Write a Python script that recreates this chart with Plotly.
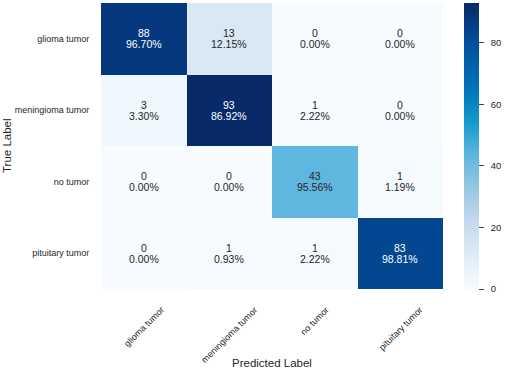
import plotly.graph_objects as go

classes = ["glioma tumor", "meningioma tumor", "no tumor", "pituitary tumor"]
counts = [
    [88, 13, 0, 0],
    [3, 93, 1, 0],
    [0, 0, 43, 1],
    [0, 1, 1, 83],
]
percents = [
    ["96.70%", "12.15%", "0.00%", "0.00%"],
    ["3.30%", "86.92%", "2.22%", "0.00%"],
    ["0.00%", "0.00%", "95.56%", "1.19%"],
    ["0.00%", "0.93%", "2.22%", "98.81%"],
]
cbar_ticks = [0, 20, 40, 60, 80]

colorscale = [
    [0.0, "rgb(247,251,255)"],
    [0.12, "rgb(222,235,247)"],
    [0.25, "rgb(192,215,236)"],
    [0.38, "rgb(140,195,225)"],
    [0.48, "rgb(85,180,222)"],
    [0.58, "rgb(20,155,205)"],
    [0.70, "rgb(0,115,185)"],
    [0.85, "rgb(0,82,160)"],
    [1.0, "rgb(8,42,105)"],
]

FONT = "Liberation Sans, Arial"
TXT = "#262626"
zmax = max(max(r) for r in counts)

fig = go.Figure(go.Heatmap(
    z=counts, x=classes, y=classes,
    colorscale=colorscale, zmin=0, zmax=zmax,
    showscale=True,
    colorbar=dict(
        thickness=15, len=1, lenmode="fraction", y=0.5, yanchor="middle",
        x=1.061, xanchor="left", xpad=0, ypad=0, outlinewidth=0,
        tickvals=cbar_ticks, ticktext=["\u00a0\u00a0" + str(t) for t in cbar_ticks],
        ticks="outside", ticklen=5, tickwidth=1,
        tickcolor="#444", tickfont=dict(family=FONT, size=9.5, color=TXT),
    ),
    hoverinfo="skip",
))

annotations = []
for i, row in enumerate(counts):
    for j, v in enumerate(row):
        col = "white" if v / zmax > 0.6 else TXT
        annotations.append(dict(x=classes[j], y=classes[i], text=str(v), showarrow=False,
                                yshift=5.5, font=dict(family=FONT, size=10.5, color=col)))
        annotations.append(dict(x=classes[j], y=classes[i], text=percents[i][j], showarrow=False,
                                yshift=-5.5, font=dict(family=FONT, size=10.5, color=col)))

for c in classes:
    annotations.append(dict(x=c, y=0, xref="x", yref="paper", yanchor="top", xanchor="center",
                            yshift=-13, text=c, textangle=-45, showarrow=False,
                            font=dict(family=FONT, size=9, color=TXT)))

annotations.append(dict(x=0.5, y=0, xref="paper", yref="paper", yanchor="middle", xanchor="center",
                        yshift=-74, text="Predicted Label", showarrow=False,
                        font=dict(family=FONT, size=11.5, color=TXT)))
annotations.append(dict(x=0, y=0.5, xref="paper", yref="paper", yanchor="middle", xanchor="center",
                        xshift=-94, text="True Label", textangle=-90, showarrow=False,
                        font=dict(family=FONT, size=11.5, color=TXT)))

fig.update_layout(
    width=505, height=373,
    margin=dict(l=101, r=58, t=3, b=84),
    paper_bgcolor="white", plot_bgcolor="white",
    xaxis=dict(showticklabels=False, showgrid=False, zeroline=False, ticks=""),
    yaxis=dict(autorange="reversed", showgrid=False, zeroline=False, ticks="outside",
               ticklen=9, tickcolor="rgba(0,0,0,0)",
               tickfont=dict(family=FONT, size=9, color=TXT)),
    annotations=annotations,
)

fig.write_html("out.html", config={"displayModeBar": False},
               post_script="document.body.style.margin='0';")
